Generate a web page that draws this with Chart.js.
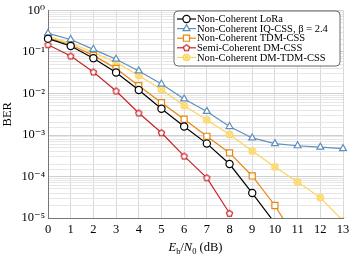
<!DOCTYPE html>
<html>
<head>
<meta charset="utf-8">
<script src="https://cdn.jsdelivr.net/npm/chart.js@4/dist/chart.umd.min.js"></script>
<style>
  html, body { margin:0; padding:0; background:#fff; }
</style>
</head>
<body>
<canvas id="ber" width="355" height="259"></canvas>
<script>
// Eb/N0 in dB
const snr = [0,1,2,3,4,5,6,7,8,9,10,11,12,13];
const loraNC = [0.21, 0.14, 0.071, 0.032, 0.0121, 0.0043, 0.0016, 6.2e-4, 2.0e-4, 4.0e-5, 7.5e-6];
const iqCss = [0.28, 0.20, 0.116, 0.067, 0.035, 0.0169, 0.0074, 0.0037, 0.0016, 8.5e-4, 6.2e-4, 5.5e-4, 5.1e-4, 4.7e-4];
const tdmCss = [0.22, 0.15, 0.083, 0.040, 0.0154, 0.006, 0.0024, 9.3e-4, 3.7e-4, 1.03e-4, 2.0e-5, 2.6e-6];
const dmSemi = [0.15, 0.080, 0.033, 0.0115, 0.0034, 0.00113, 3.1e-4, 9.3e-5, 1.3e-5];
const dmTdm = [0.24, 0.165, 0.097, 0.056, 0.027, 0.0125, 0.0051, 0.0023, 0.00103, 4.1e-4, 1.7e-4, 7.4e-5, 3.1e-5, 8.5e-6];
const seriesNames = ['Non-Coherent LoRa', 'Non-Coherent IQ-CSS, \u03b2 = 2.4', 'Non-Coherent TDM-CSS', 'Semi-Coherent DM-CSS', 'Non-Coherent DM-TDM-CSS'];

const SERIF = '"Liberation Serif", "DejaVu Serif", serif';
const BLUE = '#5f8fbd', ORANGE = '#e8870f', RED = '#c8252b', YELLOW = '#fcd35a';

function marker(draw){
  const c = document.createElement('canvas');
  c.width = 9; c.height = 9;
  draw(c.getContext('2d'), 4.5);
  return c;
}
// circle with a cross inside
const otimes = marker((g, m)=>{
  g.strokeStyle = YELLOW; g.fillStyle = '#fdeaa8'; g.lineWidth = 1.1;
  g.beginPath(); g.arc(m, m, 3.3, 0, Math.PI*2); g.fill(); g.stroke();
  const d = 2.3;
  g.beginPath(); g.moveTo(m-d, m-d); g.lineTo(m+d, m+d); g.moveTo(m+d, m-d); g.lineTo(m-d, m+d); g.stroke();
});
const pentagon = marker((g, m)=>{
  g.strokeStyle = RED; g.fillStyle = '#fff'; g.lineWidth = 1.2;
  g.beginPath();
  for(let i=0;i<5;i++){
    const a = -Math.PI/2 + i*2*Math.PI/5;
    const px = m + 3.2*Math.cos(a), py = m + 0.3 + 3.2*Math.sin(a);
    i ? g.lineTo(px, py) : g.moveTo(px, py);
  }
  g.closePath(); g.fill(); g.stroke();
});

const sup = {'-':'\u207b','0':'\u2070','1':'\u00b9','2':'\u00b2','3':'\u00b3','4':'\u2074','5':'\u2075'};
function decadeLabel(v){
  const e = Math.log10(v);
  if(Math.abs(e - Math.round(e)) > 1e-6) return '';
  return '10' + String(Math.round(e)).split('').map(ch=>sup[ch]).join('');
}

function ds(label, data, color, style, radius){
  return {
    label, data,
    borderColor: color, borderWidth: 1.2,
    pointStyle: style, pointRadius: radius,
    pointBorderColor: color, pointBackgroundColor: '#fff', pointBorderWidth: 1.2,
    tension: 0, clip: {left: 8, right: 8, top: 0, bottom: 0}
  };
}

const xLabelPlugin = {
  id: 'xLabel',
  afterDraw(chart){
    const ctx = chart.ctx, area = chart.chartArea;
    const parts = [
      ['E', 'italic 12.5px ' + SERIF, 0],
      ['b', '8.5px ' + SERIF, 2.5],
      ['/', '12.5px ' + SERIF, 0],
      ['N', 'italic 12.5px ' + SERIF, 0],
      ['0', '8.5px ' + SERIF, 2.5],
      [' (dB)', '12.5px ' + SERIF, 0]
    ];
    ctx.save();
    ctx.fillStyle = '#000'; ctx.textBaseline = 'alphabetic';
    let w = 0;
    parts.forEach(p=>{ ctx.font = p[1]; w += ctx.measureText(p[0]).width; });
    let x = (area.left + area.right)/2 - w/2;
    const y = 251;
    parts.forEach(p=>{ ctx.font = p[1]; ctx.fillText(p[0], x, y + p[2]); x += ctx.measureText(p[0]).width; });
    ctx.restore();
  }
};

const boxLegend = {
  id: 'boxLegend',
  afterDraw(chart){
    const ctx = chart.ctx;
    const bx = 174, by = 11, bw = 166, bh = 55;
    ctx.save();
    ctx.beginPath();
    ctx.roundRect(bx, by, bw, bh, 4);
    ctx.fillStyle = '#fff'; ctx.fill();
    ctx.lineWidth = 0.8; ctx.strokeStyle = '#444'; ctx.stroke();
    chart.data.datasets.forEach((d, i)=>{
      const y = by + 8 + i*9.6;
      ctx.strokeStyle = d.borderColor; ctx.lineWidth = 1.2;
      ctx.beginPath(); ctx.moveTo(bx + 3, y); ctx.lineTo(bx + 22, y); ctx.stroke();
      ctx.fillStyle = '#fff';
      Chart.helpers.drawPoint(ctx, {pointStyle: d.pointStyle, radius: d.pointRadius, rotation: 0, borderWidth: 1.2}, bx + 12.5, y);
      ctx.fillStyle = '#000';
      ctx.font = '10.5px ' + SERIF;
      ctx.textBaseline = 'middle';
      ctx.fillText(d.label, bx + 23, y + 0.5);
    });
    ctx.restore();
  }
};

new Chart(document.getElementById('ber'), {
  type: 'line',
  data: {
    labels: snr,
    datasets: [
      ds(seriesNames[0], loraNC, '#000', 'circle', 3.6),
      ds(seriesNames[1], iqCss, BLUE, 'triangle', 4),
      ds(seriesNames[2], tdmCss, ORANGE, 'rect', 4.3),
      ds(seriesNames[3], dmSemi, RED, pentagon, 4),
      ds(seriesNames[4], dmTdm, YELLOW, otimes, 4)
    ]
  },
  options: {
    responsive: false,
    animation: false,
    maintainAspectRatio: false,
    layout: { padding: { top: 9, right: 12, left: 0, bottom: 0 } },
    plugins: { legend: { display: false }, tooltip: { enabled: false } },
    scales: {
      x: {
        type: 'category',
        offset: false,
        grid: { color: '#d9d9d9', lineWidth: 1, drawTicks: false },
        border: { color: '#777', width: 1 },
        ticks: { font: { family: SERIF, size: 12.5 }, color: '#000', padding: 4, maxRotation: 0, autoSkip: false },
        afterFit(scale){ scale.height = 41; }
      },
      y: {
        type: 'logarithmic',
        min: 1e-5, max: 1,
        grid: {
          drawTicks: false,
          color: c => decadeLabel(c.tick.value) ? '#cfcfcf' : '#e6e6e6',
          lineWidth: 1
        },
        border: { color: '#777', width: 1 },
        ticks: { callback: v => decadeLabel(v), autoSkip: false, font: { family: SERIF, size: 12.5 }, color: '#000', padding: 3 },
        title: { display: true, text: 'BER', font: { family: SERIF, size: 12.5 }, color: '#000', padding: 0 },
        afterFit(scale){ scale.width = 48; }
      }
    }
  },
  plugins: [xLabelPlugin, boxLegend]
});
</script>
</body>
</html>
